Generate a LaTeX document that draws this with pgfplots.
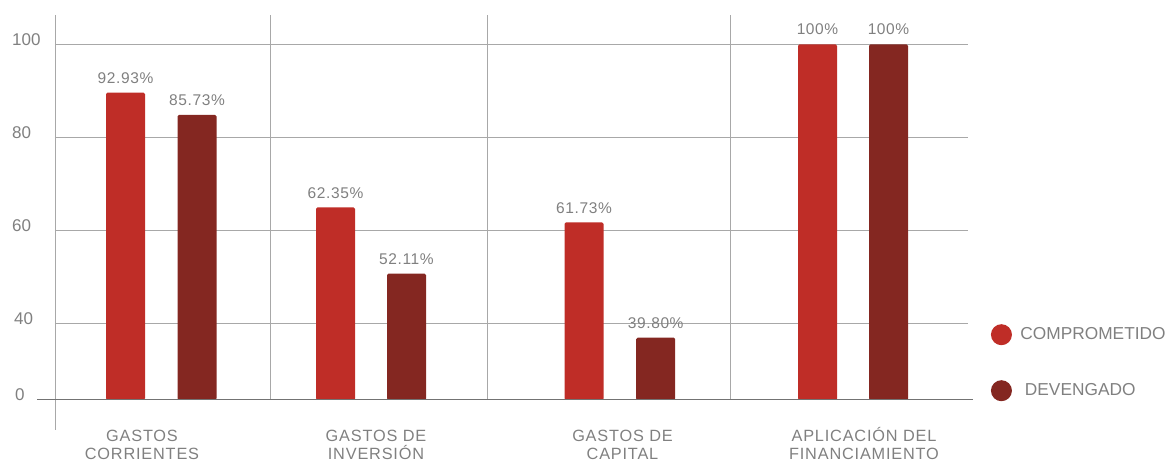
\documentclass[border=0pt]{standalone}
\usepackage{fontspec}
\setmainfont{Liberation Sans}
\newfontfamily\catfont[LetterSpace=5]{Liberation Sans}
\newfontfamily\valfont[LetterSpace=4]{Liberation Sans}
\usepackage{pgfplots}
\pgfplotsset{compat=1.18}
\usepackage{pgfplotstable}
\definecolor{comp}{RGB}{191,45,39}
\definecolor{dev}{RGB}{132,39,33}
\definecolor{txt}{RGB}{128,128,128}
\definecolor{grd}{RGB}{168,168,168}
\definecolor{basec}{RGB}{115,115,115}

\pgfplotstableread{
x y lab
125.5 89.6 92.93
335.5 64.9 62.35
584.0 61.7 61.73
817.5 100 100
}\comptab

\pgfplotstableread{
x y lab
197.0 84.8 85.73
406.5 50.7 52.11
655.7 36.9 39.80
888.5 100 100
}\devtab

\begin{document}
\begin{tikzpicture}
\useasboundingbox (-55pt,-62pt) rectangle (1114pt,400pt);
\begin{axis}[
  at={(0pt,0pt)}, anchor=south west,
  scale only axis, width=913pt, height=385pt,
  xmin=55, xmax=968, ymin=23.5, ymax=106.3,
  axis line style={draw=none},
  major tick length=0pt,
  /pgf/number format/assume math mode=true,
  ytick={23.5,40,60,80,100}, yticklabels={\hspace{3pt}0,\hspace{2pt}40,60,80,100},
  yticklabel style={anchor=west, xshift=-43pt, yshift=5pt, inner sep=0pt, font=\fontsize{17}{20}\selectfont, text=txt},
  ymajorgrids, major grid style={grd, line width=1pt},
  xtick={142,376,622.5,864},
  xticklabels={{GASTOS\\CORRIENTES},{GASTOS DE\\INVERSIÓN},{GASTOS DE\\CAPITAL},{APLICACIÓN DEL\\FINANCIAMIENTO}},
  xticklabel style={anchor=north, align=center, inner sep=0pt, text height=11.5pt, yshift=-48pt, font=\catfont\fontsize{16.3}{18.5}\selectfont, text=txt},
  extra x ticks={270,487.3,730},
  extra x tick labels={},
  extra x tick style={xmajorgrids=true},
  ybar, bar width=39, bar shift=0pt,
  clip=false,
  point meta=explicit symbolic,
  nodes near coords={\pgfplotspointmeta\%},
  every node near coord/.append style={anchor=south, inner sep=0pt, yshift=9pt, font=\valfont\fontsize{15.5}{18}\selectfont, text=txt},
  legend cell align=left,
  legend style={at={(axis description cs:1.0249,0.1974)}, anchor=north west, draw=none, fill=none, inner sep=0pt, row sep=35pt, font=\fontsize{17.3}{20}\selectfont, text=txt},
]
\addplot[fill=comp, draw=none, rounded corners=1.5pt, legend image code/.code={\fill[comp] (10.5pt,0pt) circle (10.5pt);}] table[x=x,y=y,meta=lab]{\comptab};
\addplot[fill=dev, draw=none, rounded corners=1.5pt, legend image code/.code={\fill[dev] (10.5pt,0pt) circle (10.5pt);}] table[x=x,y=y,meta=lab]{\devtab};
\legend{\hspace{6.5pt}COMPROMETIDO, \hspace{11pt}DEVENGADO}
\end{axis}
\draw[grd, line width=1pt] (0pt,385pt) -- (0pt,-30pt);
\draw[basec, line width=1pt] (-18pt,0pt) -- (918pt,0pt);
\end{tikzpicture}
\end{document}
